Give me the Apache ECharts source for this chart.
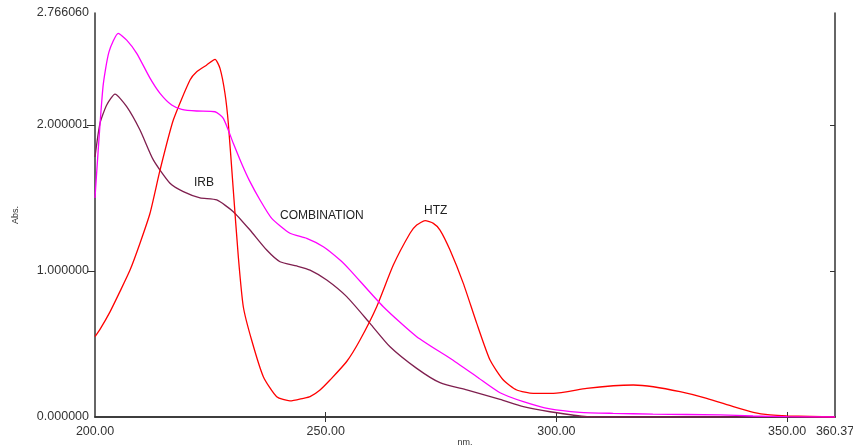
<!DOCTYPE html>
<html>
<head>
<meta charset="utf-8">
<script src="https://cdn.jsdelivr.net/npm/echarts@6/dist/echarts.min.js"></script>
<style>
  html, body { margin: 0; padding: 0; background: #fff; }
  #chart { width: 853px; height: 446px; }
</style>
</head>
<body>
<div id="chart"></div>
<script>
// spectra (wavelength nm / absorbance)
var irbX = [200.00, 201.08, 202.54, 204.33, 206.87, 209.75, 212.64, 216.25, 219.14, 222.76, 226.38, 229.97, 233.59, 237.21, 240.10, 243.71, 246.60, 250.22, 254.55, 259.60, 263.94, 269.72, 274.77, 280.56, 287.78, 292.83, 298.61, 306.63, 320.00, 360.37];
var irbY = [1.78, 2.01, 2.136, 2.21, 2.125, 1.965, 1.76, 1.60, 1.543, 1.50, 1.486, 1.406, 1.28, 1.143, 1.063, 1.034, 1.006, 0.938, 0.824, 0.641, 0.481, 0.333, 0.235, 0.185, 0.121, 0.071, 0.036, 0.003, 0.0, 0.0];

var htzX = [200.00, 201.08, 203.25, 205.42, 207.59, 209.75, 211.92, 214.09, 216.97, 220.59, 222.04, 224.21, 226.01, 227.09, 228.17, 228.89, 229.97, 231.06, 232.14, 233.94, 236.48, 239.38, 242.26, 245.15, 246.60, 248.77, 250.93, 254.55, 257.43, 261.05, 264.65, 268.27, 269.72, 271.52, 273.33, 274.77, 276.94, 279.82, 282.73, 285.61, 288.49, 291.40, 294.99, 299.33, 306.55, 312.33, 316.67, 321.00, 326.78, 332.56, 338.34, 342.67, 346.29, 349.91, 360.37];
var htzY = [0.55, 0.60, 0.72, 0.86, 1.006, 1.19, 1.395, 1.69, 2.033, 2.307, 2.364, 2.41, 2.449, 2.387, 2.215, 2.011, 1.554, 1.097, 0.755, 0.527, 0.276, 0.139, 0.11, 0.128, 0.139, 0.185, 0.253, 0.38, 0.527, 0.755, 1.04, 1.258, 1.314, 1.344, 1.326, 1.28, 1.143, 0.915, 0.641, 0.39, 0.253, 0.185, 0.162, 0.162, 0.196, 0.214, 0.219, 0.207, 0.173, 0.128, 0.071, 0.032, 0.014, 0.007, 0.0];

var combX = [200.00, 201.73, 203.03, 205.05, 206.87, 209.04, 211.92, 214.09, 216.62, 218.79, 222.04, 226.01, 227.81, 229.97, 231.84, 233.44, 235.76, 238.30, 242.26, 245.88, 249.48, 253.10, 255.27, 262.48, 269.72, 276.94, 282.73, 287.78, 292.83, 298.61, 305.10, 312.30, 320.90, 335.50, 342.60, 350.00, 360.37];
var combY = [1.50, 2.26, 2.50, 2.627, 2.58, 2.49, 2.32, 2.216, 2.136, 2.107, 2.095, 2.09, 2.045, 1.874, 1.73, 1.62, 1.486, 1.36, 1.258, 1.223, 1.166, 1.075, 1.006, 0.755, 0.550, 0.402, 0.276, 0.166, 0.105, 0.055, 0.032, 0.025, 0.020, 0.014, 0.007, 0.002, 0.0];

var xLabels = [200, 250, 300, 350, 360.37];
var xTicks = [250, 300, 350];
var yLabels = [0, 1, 2.000001, 2.76606];
var yTicks = [1, 2.000001];

function pairs(xs, ys) {
  return xs.map(function (x, i) { return [x, ys[i]]; });
}

var axisColor = '#333';
var font = 'Liberation Sans, Arial, sans-serif';

var chart = echarts.init(document.getElementById('chart'));
chart.setOption({
  animation: false,
  grid: { left: 95, right: 18, top: 13, bottom: 29, outerBoundsMode: 'none', containLabel: false },
  xAxis: [{
    type: 'value', min: 200, max: 360.37, position: 'bottom',
    splitLine: { show: false },
    axisLine: { lineStyle: { color: axisColor, width: 1.5 } },
    axisTick: { inside: true, length: 5, customValues: xTicks, lineStyle: { color: axisColor } },
    axisLabel: {
      customValues: xLabels, margin: 8, color: '#333', fontSize: 12.5, fontFamily: font,
      formatter: function (v) { return v.toFixed(2); }
    },
    name: 'nm.', nameLocation: 'middle', nameGap: 21, nameMoveOverlap: false,
    nameTextStyle: { color: '#333', fontSize: 9, fontFamily: font }
  }, {
    type: 'value', min: 200, max: 360.37, position: 'top',
    splitLine: { show: false },
    axisLine: { lineStyle: { color: axisColor, width: 1.5 } },
    axisTick: { inside: true, length: 5, customValues: xTicks, lineStyle: { color: axisColor } },
    axisLabel: { show: false }
  }],
  yAxis: [{
    type: 'value', min: 0, max: 2.76606, position: 'left',
    splitLine: { show: false },
    axisLine: { lineStyle: { color: axisColor, width: 1.5 } },
    axisTick: { inside: false, length: 8, customValues: yTicks, lineStyle: { color: axisColor } },
    axisLabel: {
      customValues: yLabels, margin: 6, color: '#333', fontSize: 12.5, fontFamily: font,
      formatter: function (v) { return v.toFixed(6); }
    },
    name: 'Abs.', nameLocation: 'middle', nameGap: 75, nameRotate: 90, nameMoveOverlap: false,
    nameTextStyle: { color: '#333', fontSize: 9, fontFamily: font }
  }, {
    type: 'value', min: 0, max: 2.76606, position: 'right',
    splitLine: { show: false },
    axisLine: { lineStyle: { color: axisColor, width: 1.5 } },
    axisTick: { inside: true, length: 5, customValues: yTicks, lineStyle: { color: axisColor } },
    axisLabel: { show: false }
  }],
  graphic: [
    { type: 'text', left: 194, top: 177, style: { text: 'IRB', fill: '#222', font: '12px ' + font } },
    { type: 'text', left: 280, top: 210, style: { text: 'COMBINATION', fill: '#222', font: '12px ' + font } },
    { type: 'text', left: 424, top: 205, style: { text: 'HTZ', fill: '#222', font: '12px ' + font } }
  ],
  series: [{
    name: 'IRB', type: 'line', data: pairs(irbX, irbY),
    showSymbol: false, smooth: 0.2,
    lineStyle: { color: '#7f1f4f', width: 1.3 }
  }, {
    name: 'HTZ', type: 'line', data: pairs(htzX, htzY),
    showSymbol: false, smooth: 0.2,
    lineStyle: { color: '#ff0000', width: 1.3 }
  }, {
    name: 'COMBINATION', type: 'line', data: pairs(combX, combY),
    showSymbol: false, smooth: 0.2,
    lineStyle: { color: '#ff00ff', width: 1.3 }
  }]
});
</script>
</body>
</html>
